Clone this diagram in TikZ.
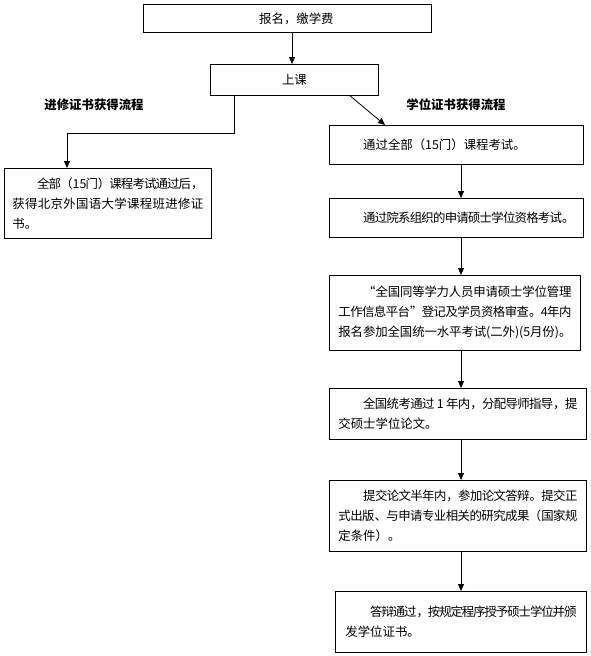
\documentclass[tikz,border=0pt]{standalone}
\usepackage{fontspec}
\setmainfont{Noto Sans CJK SC}
\usetikzlibrary{arrows.meta,calc}
\XeTeXlinebreaklocale "zh"
\XeTeXlinebreakskip=0pt plus 3pt minus 1.5pt
\XeTeXlinebreakpenalty=10000
\tikzset{
  box/.style={draw=black, line width=0.8pt, anchor=north west, inner xsep=9pt, inner ysep=0pt, align=justify},
  cbox/.style={draw=black, line width=0.8pt, anchor=north west, inner sep=0pt, align=center},
  lbl/.style={font=\fontsize{12.4pt}{15pt}\selectfont\bfseries, inner sep=0pt},
  arr/.style={draw=black, line width=0.8pt, -{Triangle[width=6pt,length=7pt]}}
}
\begin{document}
\begin{tikzpicture}[x=1pt,y=-1pt, font=\fontsize{12.4pt}{20pt}\selectfont]
\useasboundingbox (0,0) rectangle (591,656);
\node[cbox, minimum width=288pt, minimum height=28pt] (b1) at (143,4) {\hspace*{18pt}报名，缴学费};
\node[cbox, minimum width=168pt, minimum height=31pt] (b2) at (210,64) {上课};
\node[lbl] (lL) at (94,105) {进修证书获得流程};
\node[lbl] (lR) at (456,105) {学位证书获得流程};
\node[box, inner xsep=8pt, text width=191pt, minimum height=70pt] (L) at (4,168)
  {\hspace*{2em}全部（15门）课程考试通过后，\linebreak 获得北京外国语大学课程班进修证\linebreak 书。};
\node[box, text width=236pt, minimum height=39pt] (r1) at (329,125)
  {\hspace*{2em}通过全部（15门）课程考试。};
\node[box, text width=236pt, minimum height=39pt] (r2) at (329,198)
  {\hspace*{2em}通过院系组织的申请硕士学位资格考试。};
\node[box, text width=233pt, minimum height=75pt] (r3) at (329,275)
  {\hspace*{2em}“全国同等学力人员申请硕士学位管理\linebreak 工作信息平台”登记及学员资格审查。4年内\linebreak 报名参加全国统一水平考试(二外)(5月份)。};
\node[box, text width=239pt, minimum height=51pt] (r4) at (329,388)
  {\hspace*{2em}全国统考通过~1~年内，分配导师指导，提\linebreak 交硕士学位论文。};
\node[box, text width=239pt, minimum height=71pt] (r5) at (329,480)
  {\hspace*{2em}提交论文半年内，参加论文答辩。提交正\linebreak 式出版、与申请专业相关的研究成果（国家规\linebreak 定条件）。};
\node[box, inner xsep=10pt, text width=231pt, minimum height=61pt] (r6) at (335,591)
  {\hspace*{2em}答辩通过，按规定程序授予硕士学位并颁\linebreak 发学位证书。\par\vspace*{7pt}};
\coordinate (ax) at (461,0);
\coordinate (ab) at (292,0);
\coordinate (lc) at (234,0);
\coordinate (lk) at (67,133);
\draw[arr] (b1.south -| ab) -- (b2.north -| ab);
\draw[arr] (b2.south -| lc) |- (lk) -- (L.north -| lk);
\draw[arr] ($(b2.south west)+(140,0)$) -- ($(r1.north west)+(56,0)$);
\draw[arr] (r1.south -| ax) -- (r2.north -| ax);
\draw[arr] (r2.south -| ax) -- (r3.north -| ax);
\draw[arr] (r3.south -| ax) -- (r4.north -| ax);
\draw[arr] (r4.south -| ax) -- (r5.north -| ax);
\draw[arr] (r5.south -| ax) -- (r6.north -| ax);
\end{tikzpicture}
\end{document}
